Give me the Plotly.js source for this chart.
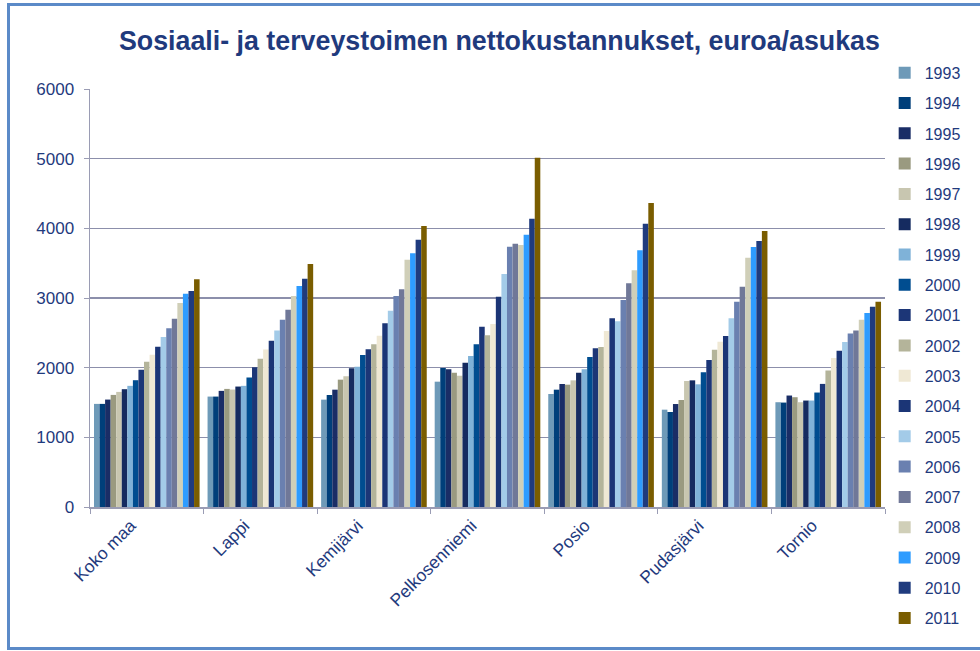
<!DOCTYPE html>
<html>
<head>
<meta charset="utf-8">
<script src="https://cdn.plot.ly/plotly-3.0.1.min.js"></script>
<style>
  html, body { margin: 0; padding: 0; background: #ffffff; overflow: hidden; }
  #chart { position: absolute; left: 0; top: 0; width: 980px; height: 651px; }
  #frame { position: absolute; left: 7px; top: 3px; width: 1000px; height: 641px;
           border: 3px solid #5b8ac8; pointer-events: none; }
</style>
</head>
<body>
<div id="chart"></div>
<div id="frame"></div>
<script>
const categories = ["Koko maa", "Lappi", "Kemijärvi", "Pelkosenniemi", "Posio", "Pudasjärvi", "Tornio"];
const years = ["1993","1994","1995","1996","1997","1998","1999","2000","2001","2002",
               "2003","2004","2005","2006","2007","2008","2009","2010","2011"];

// Values per region, one value per year 1993..2011 (euro / inhabitant)
const kokoMaa       = [1480,1480,1542,1609,1652,1691,1739,1820,1969,2084,2185,2300,2439,2564,2703,2928,3062,3101,3269];
const lappi         = [1585,1585,1667,1695,1686,1729,1739,1859,2007,2127,2261,2386,2535,2688,2832,3029,3173,3278,3489];
const kemijarvi     = [1541,1608,1684,1828,1876,1990,2014,2182,2263,2335,2459,2636,2818,3029,3124,3550,3641,3837,4033];
const pelkosenniemi = [1799,1995,1976,1928,1885,2072,2167,2335,2589,2464,2627,3019,3344,3737,3780,3761,3909,4139,5014];
const posio         = [1622,1684,1766,1756,1818,1928,1976,2153,2278,2297,2526,2708,2665,2971,3211,3397,3684,4067,4364];
const pudasjarvi    = [1397,1364,1478,1536,1809,1818,1761,1933,2110,2258,2373,2455,2708,2947,3163,3579,3732,3818,3962];
const tornio        = [1504,1499,1600,1576,1504,1528,1528,1643,1767,1959,2137,2242,2367,2492,2535,2688,2784,2875,2947];

const regionValues = [kokoMaa, lappi, kemijarvi, pelkosenniemi, posio, pudasjarvi, tornio];

const yearColors = ["#6e9ab8","#003f7a","#1a2d66","#9a9a80","#c8c6b0","#152b60","#7fb2d8",
                    "#004d90","#1c3677","#b4b49a","#efe8d4","#1b3576","#a3cbe8","#6a80b0",
                    "#707898","#d0cfb8","#2e9cff","#1f3b7e","#7a5d00"];

const traces = years.map((yr, i) => ({
  type: "bar",
  name: yr,
  legendgroup: "g" + yr,
  x: categories,
  y: regionValues.map(r => r[i]),
  marker: { color: yearColors[i], line: { width: 0 } },
  hoverinfo: "x+y+name"
}));

const textColor = "#1f3a7d";
const font = "Liberation Sans, Arial, sans-serif";

const layout = {
  width: 980,
  height: 651,
  paper_bgcolor: "#ffffff",
  plot_bgcolor: "#ffffff",
  margin: { l: 90, r: 95, t: 89, b: 144 },
  barmode: "group",
  bargap: 0.07,
  bargroupgap: 0,
  title: {
    text: "<b>Sosiaali- ja terveystoimen nettokustannukset, euroa/asukas</b>",
    font: { family: font, size: 26.8, color: textColor },
    x: 0.515, xref: "paper", xanchor: "center",
    y: 0.938, yref: "container", yanchor: "middle"
  },
  font: { family: font, color: textColor },
  xaxis: {
    type: "category",
    tickson: "boundaries",
    ticks: "outside",
    ticklen: 5,
    tickcolor: "#9a9cb4",
    showline: true,
    linecolor: "#9a9cb4",
    linewidth: 1.5,
    tickangle: -45,
    ticklabelshift: -16,
    tickfont: { family: font, size: 17.5, color: textColor },
    showgrid: false
  },
  yaxis: {
    range: [0, 6000],
    dtick: 1000,
    ticks: "outside",
    ticklen: 5,
    tickcolor: "#9a9cb4",
    showline: true,
    linecolor: "#9a9cb4",
    linewidth: 1.5,
    gridcolor: "#8c8fab",
    gridwidth: 1.6,
    zeroline: false,
    tickfont: { family: font, size: 17, color: textColor },
    ticklabelstandoff: 6
  },
  showlegend: true,
  legend: {
    x: 0.9996, xanchor: "left",
    y: 1.0794, yanchor: "top",
    maxheight: 630,
    font: { family: font, size: 16, color: textColor },
    tracegroupgap: 6.5,
    bgcolor: "rgba(0,0,0,0)"
  }
};

Plotly.newPlot("chart", traces, layout, { displayModeBar: false, staticPlot: true });
</script>
</body>
</html>
